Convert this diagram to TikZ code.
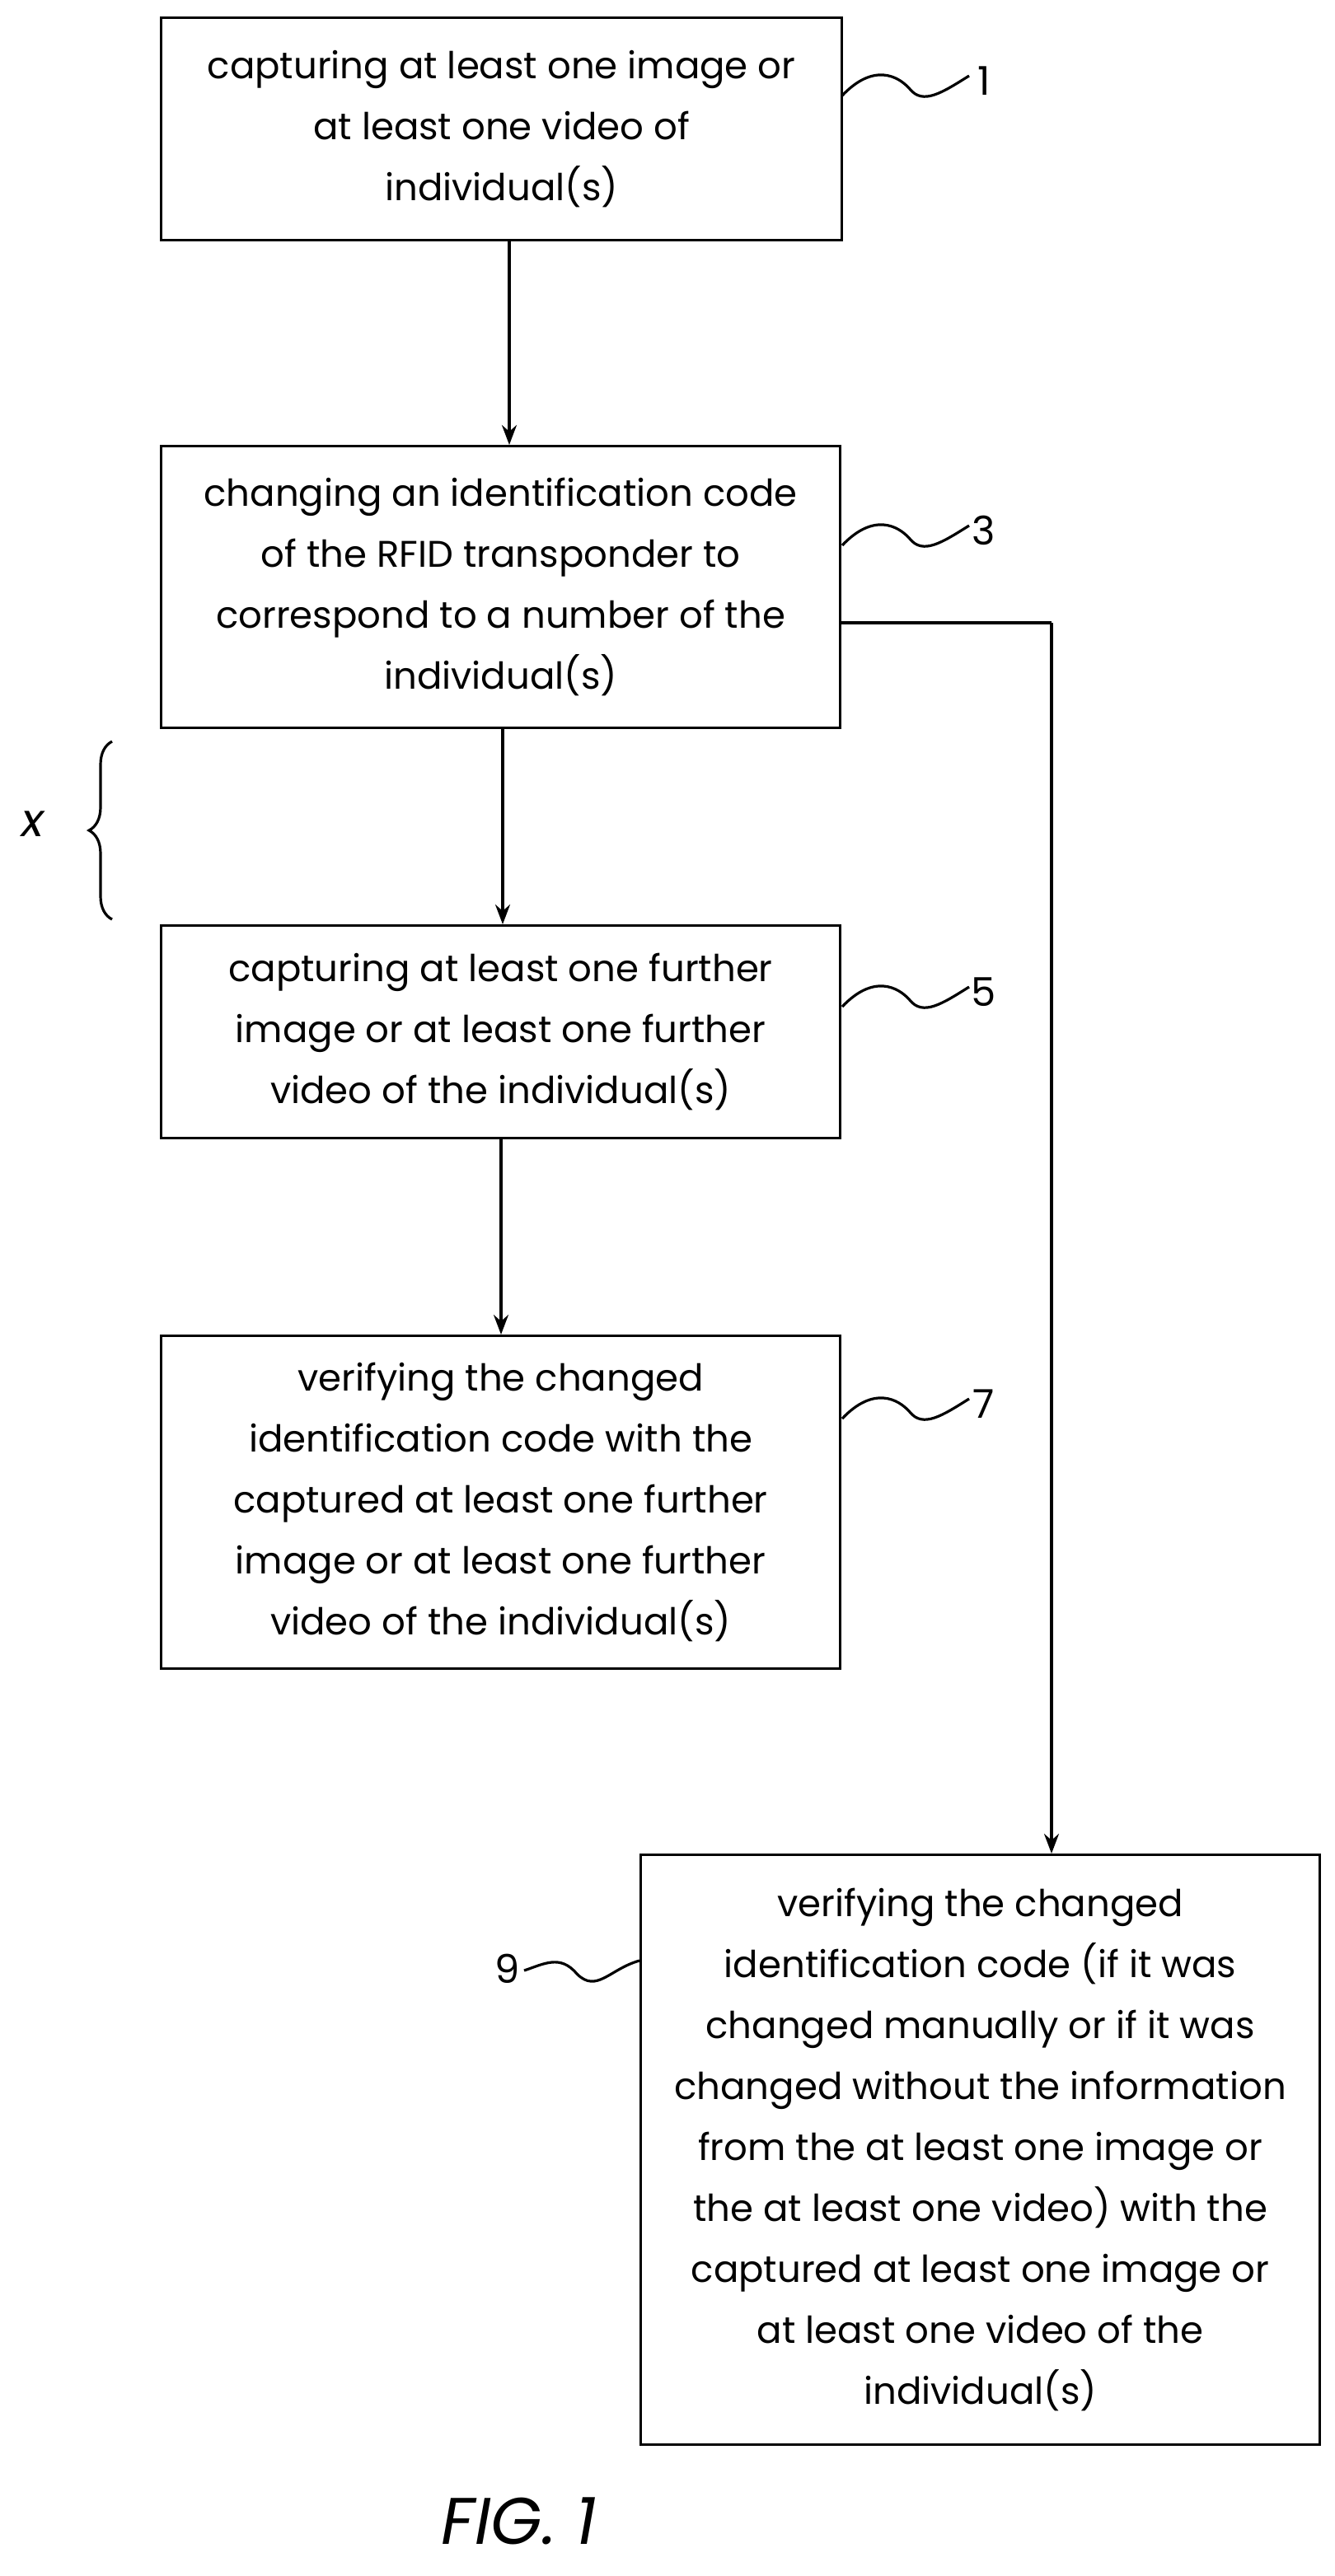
\documentclass[tikz,border=0pt]{standalone}
\usepackage{fontspec}
\setmainfont{Poppins}
\usetikzlibrary{arrows.meta,decorations.pathreplacing}
\begin{document}
\begin{tikzpicture}[x=1pt,y=-1pt,
 box/.style={draw,line width=1.6pt,align=center,font=\fontsize{22.5}{37}\selectfont,inner sep=0pt,anchor=north west},
 arr/.style={line width=1.6pt,-{Stealth[length=12pt,width=9pt]}},
 sq/.style={line width=1.6pt},
 lab/.style={font=\fontsize{24}{28}\selectfont}]
\useasboundingbox (0,0) rectangle (810,1563.5);
\node[box,minimum width=413,minimum height=135] (b1) at (97,10) {capturing at least one image or\\at least one video of\\individual(s)};
\node[box,minimum width=412,minimum height=171] (b3) at (97,270) {changing an identification code\\of the RFID transponder to\\correspond to a number of the\\individual(s)};
\node[box,minimum width=412,minimum height=129] (b5) at (97,561) {capturing at least one further\\image or at least one further\\video of the individual(s)};
\node[box,minimum width=412,minimum height=202] (b7) at (97,810) {verifying the changed\\identification code with the\\captured at least one further\\image or at least one further\\video of the individual(s)};
\node[box,minimum width=412,minimum height=358] (b9) at (388,1125) {verifying the changed\\identification code (if it was\\changed manually or if it was\\changed without the information\\from the at least one image or\\the at least one video) with the\\captured at least one image or\\at least one video of the\\individual(s)};
\coordinate (c3) at (638,378);
\draw[arr] (309,145) -- (309,270);
\draw[arr] (305,441) -- (305,561);
\draw[arr] (304,690) -- (304,810);
\draw[line width=1.6pt] (509,378) -- (c3);
\draw[arr] (c3) -- (638,1125);
\foreach \y/\t in {52/1,325/3,605/5,855/7}{
 \draw[sq] (511,\y+6) .. controls (530,\y-14) and (545,\y-6) .. (552,\y+2) .. controls (560,\y+12) and (572,\y+4) .. (588,\y-6);
 \node[lab] at (597,\y-3) {\t};
}
\draw[sq] (388,1190) .. controls (370,1195) and (362,1210) .. (350,1198) .. controls (340,1186) and (330,1192) .. (318,1196);
\node[lab] at (308,1195) {9};
\draw[line width=1.6pt,decorate,decoration={brace,amplitude=14pt}] (68,558) -- (68,450);
\node[font=\fontsize{28}{30}\selectfont\itshape] at (20,500) {x};
\node[font=\fontsize{40}{42}\selectfont\itshape] (fig) at (315,1530) {FIG. 1};
\end{tikzpicture}
\end{document}
